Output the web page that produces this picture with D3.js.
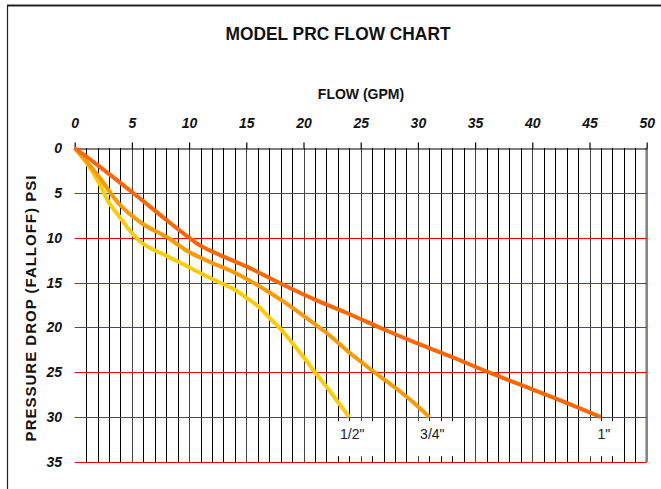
<!DOCTYPE html>
<html><head><meta charset="utf-8">
<script src="https://cdn.jsdelivr.net/npm/d3@7"></script>
<style>
html,body{margin:0;padding:0;background:#fff;}
svg{display:block;font-family:"Liberation Sans",Arial,sans-serif;}
</style></head>
<body>
<svg id="c" width="661" height="489"></svg>
<script>
const title = "MODEL PRC FLOW CHART";
const xTitle = "FLOW (GPM)";
const yTitle = "PRESSURE DROP (FALLOFF) PSI";
const xTicks = [0,5,10,15,20,25,30,35,40,45,50];
const yTicks = [0,5,10,15,20,25,30,35];
const seriesNames = ['1/2"', '3/4"', '1"'];
const seriesColors = ["#FFCC00", "#FF9900", "#FF6600"];
const flowHalf = [0,1,2,3,4,5,6,7,8,10,12,14,15,16,17,18,19,20,21,22,23,24];
const dropHalf = [0,1.6,3.6,6.1,7.8,9.5,10.7,11.4,12.0,13.3,14.6,15.8,16.7,17.6,18.9,20.2,21.7,23.3,25.0,26.6,28.3,30];
const flowThreeQ = [0,2,4,6,8,10,12,14,16,18,20,22,24,26,28,30,31];
const dropThreeQ = [0,3.0,6.4,8.5,9.9,11.6,12.8,13.9,15.3,16.9,18.7,20.6,22.8,24.8,26.7,28.8,30];
const flowOne = [0,2,5,8,10,11,13,15,18,21,24,27,30,33,36,40,43,46];
const dropOne = [0,1.9,4.9,8.0,10.0,10.9,12.1,13.2,15.1,16.9,18.5,20.2,21.8,23.3,24.9,26.9,28.4,30];

const series = [
  {name: seriesNames[0], color: seriesColors[0], flow: flowHalf, drop: dropHalf},
  {name: seriesNames[1], color: seriesColors[1], flow: flowThreeQ, drop: dropThreeQ},
  {name: seriesNames[2], color: seriesColors[2], flow: flowOne, drop: dropOne}
];

const svg = d3.select("#c");
const x = d3.scaleLinear().domain([0,50]).range([74.7,646.7]);
const y = d3.scaleLinear().domain([0,35]).range([148,462]);

// outer border
svg.append("line").attr("x1",7).attr("x2",661).attr("y1",5.5).attr("y2",5.5).attr("stroke","#222").attr("stroke-width",2);
svg.append("line").attr("x1",7.5).attr("x2",7.5).attr("y1",5).attr("y2",489).attr("stroke","#222").attr("stroke-width",1.2);

// title
svg.append("text").attr("x",338).attr("y",39.5).attr("text-anchor","middle")
  .attr("font-size",19).attr("font-weight","bold").attr("textLength",225).attr("lengthAdjust","spacingAndGlyphs")
  .attr("fill","#111").text(title);
svg.append("text").attr("x",361).attr("y",99).attr("text-anchor","middle")
  .attr("font-size",14).attr("font-weight","bold").attr("fill","#111").text(xTitle);
svg.append("text").attr("transform","translate(36,308) rotate(-90)").attr("text-anchor","middle")
  .attr("font-size",15).attr("font-weight","bold").attr("letter-spacing",1).attr("fill","#111").text(yTitle);

// minor vertical grid
const g = svg.append("g");
g.selectAll("line.v").data(d3.range(1,50)).join("line")
  .attr("x1",d=>Math.round(x(d))+0.5).attr("x2",d=>Math.round(x(d))+0.5)
  .attr("y1",y(0)).attr("y2",y(35)).attr("stroke",d=>d%5===0?"#444":"#000").attr("stroke-width",1);
g.append("line").attr("x1",x(50)).attr("x2",x(50)).attr("y1",y(0)).attr("y2",y(35)).attr("stroke","#808080").attr("stroke-width",2.5);
// red horizontal grid
g.selectAll("line.h").data(yTicks.filter(d=>d>0)).join("line")
  .attr("x1",x(0)).attr("x2",x(50)).attr("y1",d=>Math.round(y(d))+0.5).attr("y2",d=>Math.round(y(d))+0.5)
  .attr("stroke","#FF0000").attr("stroke-width",1.2);

// top axis
const xa = svg.append("g").attr("transform",`translate(0,${Math.round(y(0))+0.5})`)
  .call(d3.axisTop(x).tickValues(xTicks).tickSize(6).tickSizeOuter(0).tickPadding(15).tickFormat(d3.format("d")));
xa.select(".domain").attr("stroke","#000").attr("stroke-width",1.2);
xa.selectAll(".tick line").attr("stroke","#000").attr("stroke-width",1.2);
xa.selectAll(".tick text").attr("font-size",14).attr("font-weight","bold").attr("font-style","italic")
  .attr("fill","#111").attr("font-family","'Liberation Sans',Arial,sans-serif");

// left axis labels
const ya = svg.append("g").attr("transform",`translate(${x(0)},0)`)
  .call(d3.axisLeft(y).tickValues(yTicks).tickSize(0).tickPadding(12.7).tickFormat(d3.format("d")));
ya.select(".domain").remove();
ya.selectAll(".tick text").attr("font-size",14).attr("font-weight","bold").attr("font-style","italic")
  .attr("fill","#111").attr("font-family","'Liberation Sans',Arial,sans-serif");

// curves
const line = d3.line().x(d=>x(d[0])).y(d=>y(d[1])).curve(d3.curveCatmullRom.alpha(0.5));
series.forEach(s=>{
  const pts = s.flow.map((f,i)=>[f,s.drop[i]]);
  svg.append("path").attr("d",line(pts)).attr("fill","none").attr("stroke",s.color)
    .attr("stroke-width",4).attr("stroke-linejoin","round");
});

// data labels with white boxes
series.forEach(s=>{
  const last = s.flow[s.flow.length-1];
  const cx = x(last)+3;
  const by = y(30)+22;
  const t = svg.append("text").attr("x",cx).attr("y",by).attr("text-anchor","middle")
    .attr("font-size",14).attr("fill","#222").text(s.name);
  const bb = t.node().getBBox();
  svg.insert("rect", () => t.node()).attr("x",bb.x-11).attr("y",by-18).attr("width",bb.width+24).attr("height",35)
    .attr("fill","#fff");
});
</script>
</body></html>
